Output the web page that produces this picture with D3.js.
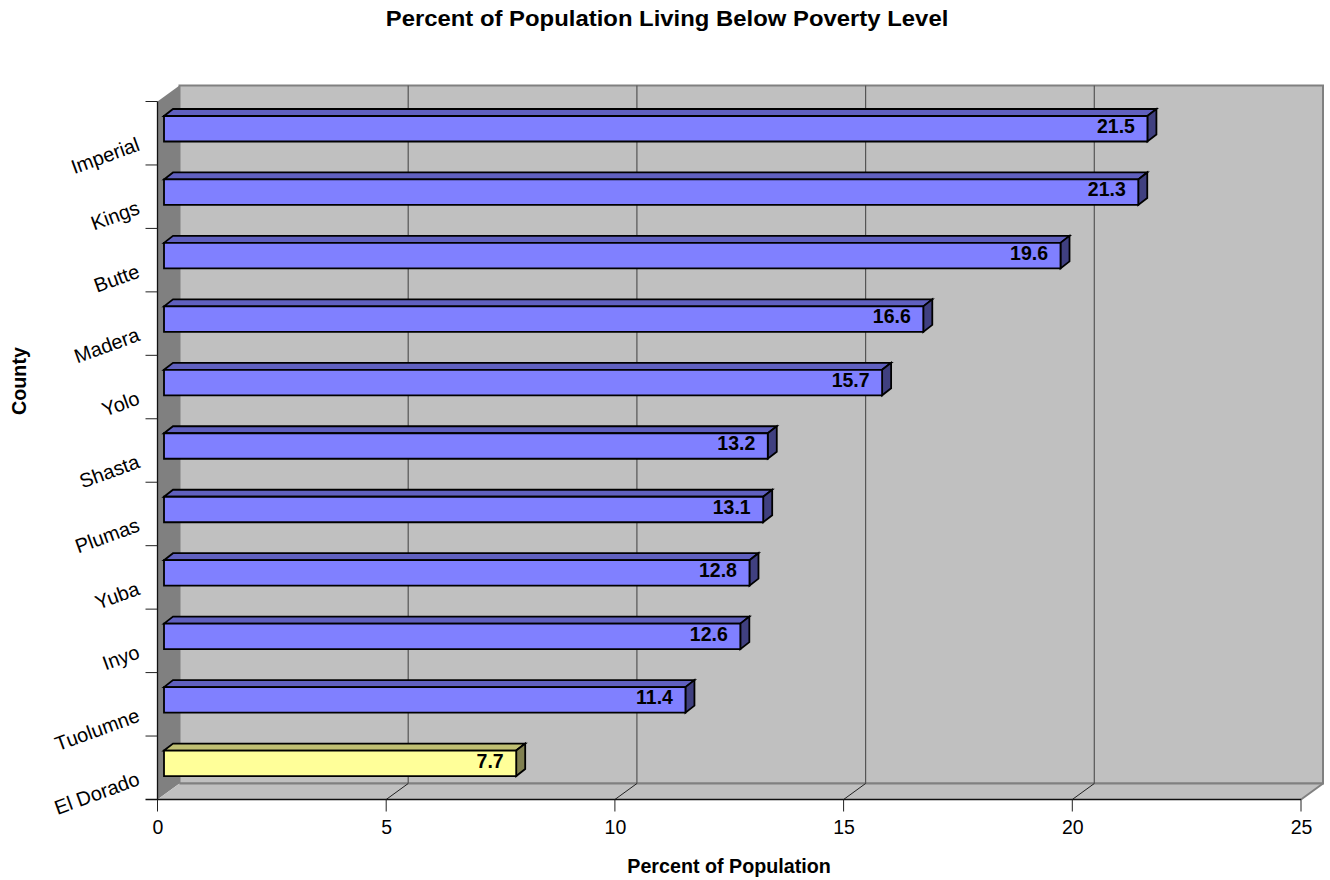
<!DOCTYPE html>
<html>
<head>
<meta charset="utf-8">
<script src="https://cdn.jsdelivr.net/npm/d3@7"></script>
<style>
  html, body { margin: 0; background: #fff; }
  svg { display: block; }
  text { font-family: "Liberation Sans", Arial, sans-serif; fill: #000; }
</style>
</head>
<body>
<svg id="grafico" width="1330" height="880"></svg>
<script>
const counties = ["Imperial", "Kings", "Butte", "Madera", "Yolo", "Shasta", "Plumas", "Yuba", "Inyo", "Tuolumne", "El Dorado"];
const percents = [21.5, 21.3, 19.6, 16.6, 15.7, 13.2, 13.1, 12.8, 12.6, 11.4, 7.7];
const x_ticks = [0, 5, 10, 15, 20, 25];
const highlighted = "El Dorado";

const svg = d3.select("#grafico");

// chart frame, front plane plus the depth of the 3D box
const depth_x = 22, depth_y = 16;
const bar_depth_x = 9, bar_depth_y = 7;
const left = 157.5, right = 1301, top_y = 101.5, bottom = 799.5;

const x = d3.scaleLinear().domain([0, 25]).range([left, right]);
const y = d3.scaleBand().domain(counties).range([top_y, bottom]);

const poly = (pts, fill, stroke, width) => svg.append("polygon")
  .attr("points", pts.map(p => p.join(",")).join(" "))
  .attr("fill", fill)
  .attr("stroke", stroke || "none")
  .attr("stroke-width", width || 0);

// back wall, left wall, floor
poly([[left + depth_x, top_y - depth_y], [right + depth_x, top_y - depth_y], [right + depth_x, bottom - depth_y], [left + depth_x, bottom - depth_y]], "#c0c0c0", "#808080", 2);
poly([[left, top_y], [left + depth_x, top_y - depth_y], [left + depth_x, bottom - depth_y], [left, bottom]], "#808080");
poly([[left, bottom], [left + depth_x, bottom - depth_y], [right + depth_x, bottom - depth_y], [right, bottom]], "#c0c0c0");

svg.append("line")
  .attr("x1", left + depth_x).attr("x2", right + depth_x)
  .attr("y1", bottom - depth_y).attr("y2", bottom - depth_y)
  .attr("stroke", "#808080").attr("stroke-width", 2);
svg.append("line")
  .attr("x1", right).attr("x2", right + depth_x)
  .attr("y1", bottom).attr("y2", bottom - depth_y)
  .attr("stroke", "#808080").attr("stroke-width", 2);

// gridlines on the back wall and across the floor
x_ticks.slice(1, -1).forEach(t => {
  svg.append("line")
    .attr("x1", x(t) + depth_x).attr("x2", x(t) + depth_x)
    .attr("y1", top_y - depth_y).attr("y2", bottom - depth_y)
    .attr("stroke", "#555").attr("stroke-width", 1.2);
  svg.append("line")
    .attr("x1", x(t)).attr("x2", x(t) + depth_x)
    .attr("y1", bottom).attr("y2", bottom - depth_y)
    .attr("stroke", "#222").attr("stroke-width", 1);
});

// bars
const bar_x0 = left + 6.5;
counties.forEach((c, i) => {
  const v = percents[i];
  const front_top = y(c) + 14.5;
  const front_h = 25.5;
  const x1 = bar_x0 + x(v) - x(0);
  const yellow = c === highlighted;
  const face = yellow ? "#ffff99" : "#8080ff";
  const upper = yellow ? "#bfbf73" : "#6060bf";
  const side = yellow ? "#808050" : "#404080";

  poly([[bar_x0, front_top], [bar_x0 + bar_depth_x, front_top - bar_depth_y], [x1 + bar_depth_x, front_top - bar_depth_y], [x1, front_top]], upper, "#000", 1.8);
  poly([[x1, front_top], [x1 + bar_depth_x, front_top - bar_depth_y], [x1 + bar_depth_x, front_top + front_h - bar_depth_y], [x1, front_top + front_h]], side, "#000", 1.8);
  poly([[bar_x0, front_top], [x1, front_top], [x1, front_top + front_h], [bar_x0, front_top + front_h]], face, "#000", 1.8);

  svg.append("text")
    .attr("x", x1 - 12.5)
    .attr("y", front_top + 17)
    .attr("text-anchor", "end")
    .attr("font-size", 19.5)
    .attr("font-weight", "bold")
    .text(v);
});

// x axis
const x_axis = svg.append("g")
  .attr("transform", `translate(0,${bottom})`)
  .call(d3.axisBottom(x).tickValues(x_ticks).tickSize(0).tickPadding(20.5));
x_axis.select(".domain").remove();
x_axis.selectAll("text").attr("font-size", 19.5).style("font-family", "'Liberation Sans', Arial, sans-serif");
svg.append("line").attr("x1", left - 12).attr("x2", right).attr("y1", bottom).attr("y2", bottom).attr("stroke", "#111").attr("stroke-width", 1.3);
x_ticks.forEach(t => {
  svg.append("line")
    .attr("x1", x(t)).attr("x2", x(t))
    .attr("y1", bottom).attr("y2", bottom + 12)
    .attr("stroke", "#222").attr("stroke-width", 1);
});

// y axis with ticks on the band edges
svg.append("line").attr("x1", left).attr("x2", left).attr("y1", top_y).attr("y2", bottom).attr("stroke", "#111").attr("stroke-width", 1.3);
counties.forEach(c => {
  svg.append("line")
    .attr("x1", left - 12).attr("x2", left)
    .attr("y1", y(c)).attr("y2", y(c))
    .attr("stroke", "#222").attr("stroke-width", 1);
  const ly = y(c) + y.bandwidth() - 15;
  svg.append("text")
    .attr("transform", `translate(141,${ly}) rotate(-20)`)
    .attr("text-anchor", "end")
    .attr("font-size", 20)
    .text(c);
});

// titles, the main one is a bit wider than the font
svg.append("text")
  .attr("transform", "translate(667,26) scale(1.086,1)")
  .attr("text-anchor", "middle").attr("font-size", 22).attr("font-weight", "bold")
  .text("Percent of Population Living Below Poverty Level");
svg.append("text").attr("x", 729).attr("y", 873)
  .attr("text-anchor", "middle").attr("font-size", 19.7).attr("font-weight", "bold")
  .text("Percent of Population");
svg.append("text")
  .attr("transform", "translate(26,381) rotate(-90)")
  .attr("text-anchor", "middle").attr("font-size", 19.7).attr("font-weight", "bold")
  .text("County");
</script>
</body>
</html>
